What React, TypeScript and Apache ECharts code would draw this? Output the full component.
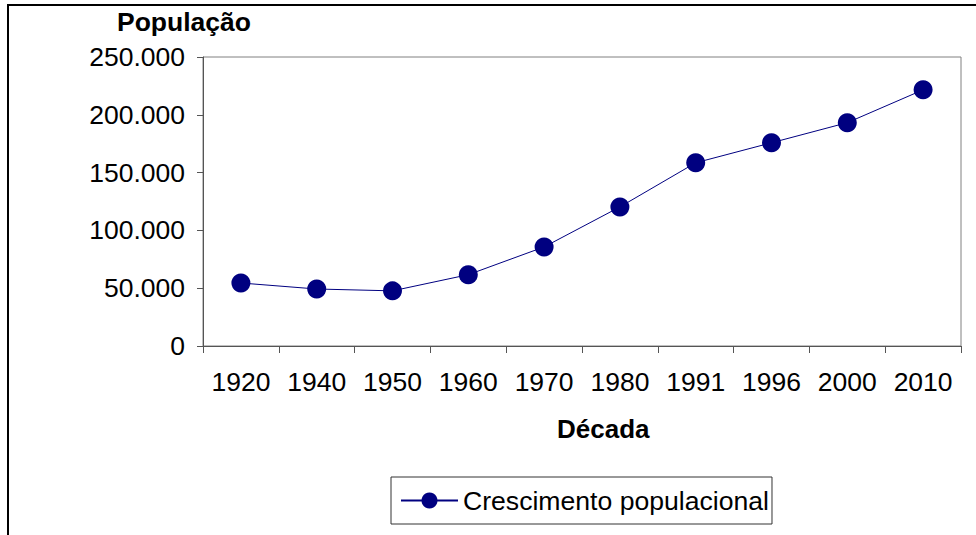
import React, { useEffect, useRef } from "react";
import * as echarts from "echarts";

const categories = ["1920", "1940", "1950", "1960", "1970", "1980", "1991", "1996", "2000", "2010"];
const populationValues = [54500, 49300, 47700, 61700, 85700, 120300, 158500, 175800, 193200, 221600];
const seriesName = "Crescimento populacional";
const yTitle = "População";
const xTitle = "Década";

const fmt = (v: number) => {
  if (v === 0) return "0";
  const s = String(Math.round(v));
  return s.replace(/\B(?=(\d{3})+(?!\d))/g, ".");
};

export default function App() {
  const ref = useRef<HTMLDivElement>(null);
  useEffect(() => {
    if (!ref.current) return;
    const chart = echarts.init(ref.current, undefined, { renderer: "svg" });
    const font = "'Liberation Sans', Arial, sans-serif";
    chart.setOption({
      animation: false,
      backgroundColor: "#ffffff",
      textStyle: { fontFamily: font },
      title: [
        {
          text: yTitle,
          left: 117,
          top: 8,
          padding: 0,
          textStyle: { fontFamily: font, fontSize: 26.5, fontWeight: "bold", color: "#000" },
        },
        {
          text: xTitle,
          left: 557,
          top: 416,
          padding: 0,
          textStyle: { fontFamily: font, fontSize: 26, fontWeight: "bold", color: "#000" },
        },
      ],
      graphic: [
        {
          type: "rect",
          shape: { x: 8, y: 5, width: 1200, height: 1000 },
          style: { fill: "none", stroke: "#000", lineWidth: 2 },
          silent: true,
          z: -10,
        },
      ],
      grid: {
        left: 203,
        top: 57,
        right: 15,
        bottom: 189,
        show: true,
        borderColor: "#808080",
        borderWidth: 1,
        backgroundColor: "transparent",
      },
      legend: {
        left: 391,
        top: 477,
        padding: [10, 3, 10, 9],
        itemWidth: 57,
        itemHeight: 20,
        borderColor: "#333",
        borderWidth: 1,
        borderRadius: 0,
        textStyle: { fontFamily: font, fontSize: 26.6, color: "#000" },
        data: [seriesName],
      },
      xAxis: {
        type: "category",
        data: categories,
        boundaryGap: true,
        axisLine: { lineStyle: { color: "#555", width: 1 } },
        axisTick: { show: true, length: 7, interval: 0, lineStyle: { color: "#555" } },
        axisLabel: { interval: 0, margin: 22, fontSize: 26.5, color: "#000", fontFamily: font },
        splitLine: { show: false },
      },
      yAxis: {
        type: "value",
        min: 0,
        max: 250000,
        interval: 50000,
        axisLine: { show: true, lineStyle: { color: "#555", width: 1 } },
        axisTick: { show: true, length: 6, lineStyle: { color: "#555" } },
        axisLabel: { margin: 18, fontSize: 26.5, color: "#000", fontFamily: font, formatter: fmt },
        splitLine: { show: false },
      },
      series: [
        {
          name: seriesName,
          type: "line",
          data: populationValues,
          symbol: "circle",
          symbolSize: 19,
          lineStyle: { color: "#000080", width: 1 },
          itemStyle: { color: "#000080" },
        },
      ],
    });
    return () => chart.dispose();
  }, []);
  return (
    <div
      ref={ref}
      style={{ position: "absolute", left: 0, top: 0, width: 976, height: 535 }}
    />
  );
}
